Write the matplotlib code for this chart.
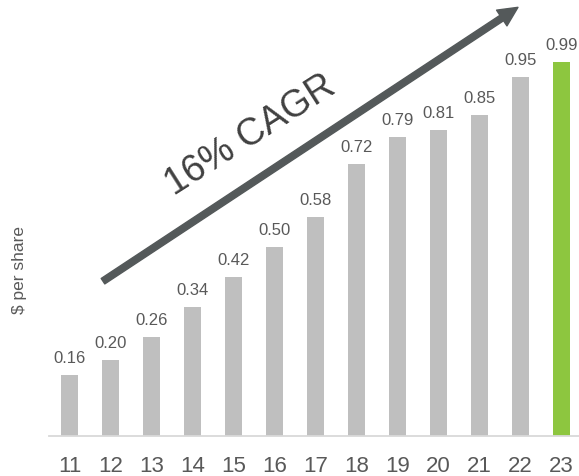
import matplotlib
matplotlib.use("Agg")
import matplotlib.pyplot as plt

plt.rcParams['font.family'] = ['Liberation Sans', 'DejaVu Sans']

# Dividends per share by fiscal year
years = ['11', '12', '13', '14', '15', '16', '17', '18', '19', '20', '21', '22', '23']
dps = [0.16, 0.20, 0.26, 0.34, 0.42, 0.50, 0.58, 0.72, 0.79, 0.81, 0.85, 0.95, 0.99]

bar_gray = '#bfbfbf'
bar_green = '#8dc63f'
text_gray = '#595959'
arrow_gray = '#54595a'

fig = plt.figure(figsize=(5.79, 4.77), dpi=100)
ax = fig.add_axes([0.0846, 0.0845, 0.9154, 0.9155])

x = list(range(len(years)))
colors = [bar_gray] * (len(years) - 1) + [bar_green]
ax.bar(x, dps, width=0.415, color=colors, zorder=2)

for xi, v in zip(x, dps):
    ax.annotate(f"{v:.2f}", xy=(xi, v), xytext=(0, 9.4), textcoords='offset points',
                ha='center', va='baseline', fontsize=12, color=text_gray)

ax.set_xlim(-0.513, 12.43)
ax.set_ylim(0, 1.156)
ax.set_xticks(x)
ax.set_xticklabels(years, fontsize=16, color=text_gray)
ax.tick_params(axis='x', length=0, pad=14)
ax.set_yticks([])
for side in ('top', 'right', 'left'):
    ax.spines[side].set_visible(False)
ax.spines['bottom'].set_color('#d9d9d9')
ax.spines['bottom'].set_linewidth(1.3)

# Growth arrow and CAGR caption
ax.annotate('', xy=(10.94, 1.134), xytext=(0.806, 0.409),
            arrowprops=dict(arrowstyle='simple,head_length=0.70,head_width=0.68,tail_width=0.235',
                            mutation_scale=20, color=arrow_gray, shrinkA=0, shrinkB=0),
            annotation_clip=False, zorder=3)
ax.text(4.54, 0.775, '16% CAGR', rotation=32.5, rotation_mode='anchor',
        ha='center', va='baseline', fontsize=27, color='#404040')

fig.text(20 / 579, 1 - 270 / 477, '$ per share', rotation=90, ha='center', va='center',
         fontsize=12.5, color=text_gray)

fig.savefig('out.png', dpi=100)
